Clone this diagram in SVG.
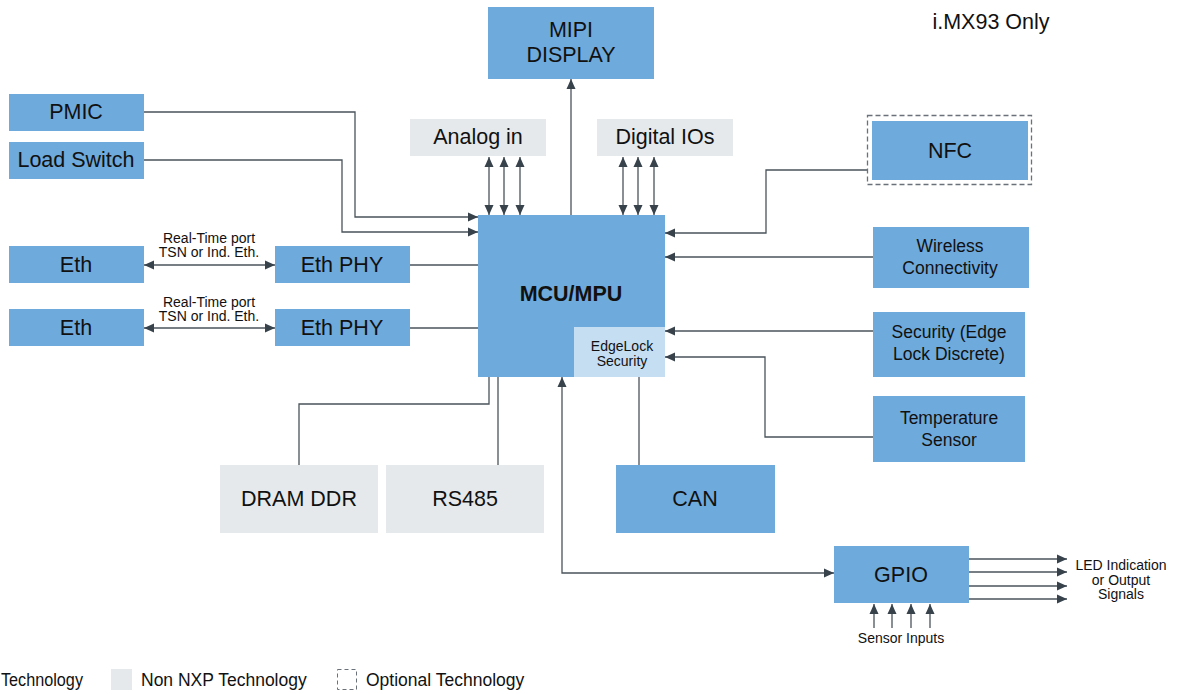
<svg xmlns="http://www.w3.org/2000/svg" width="1181" height="694" viewBox="0 0 1181 694">
<defs>
<marker id="ah" markerUnits="userSpaceOnUse" markerWidth="10" markerHeight="10" refX="10" refY="5" orient="auto-start-reverse" viewBox="0 0 10 10">
<path d="M0,0.5 L10,5 L0,9.5 z" fill="#37424b"/>
</marker>
<style>
.nxp{fill:#6eaadc}
.non{fill:#e5e9ec}
.el{fill:#c6def2}
.t{font-family:"Liberation Sans",Arial,sans-serif;fill:#111;text-anchor:middle;dominant-baseline:central}
.big{font-size:21.5px}
.mid{font-size:17.5px}
.sm{font-size:14px}
.ln{fill:none;stroke:#4a545c;stroke-width:1.3}
.ar{marker-end:url(#ah)}
.da{marker-start:url(#ah);marker-end:url(#ah)}
</style>
</defs>
<rect width="1181" height="694" fill="#fff"/>

<text class="t big" x="991" y="22">i.MX93 Only</text>

<g id="connectors">
<polyline class="ln ar" points="571,215 571,79"/>
<polyline class="ln ar" points="144,112 355,112 355,217 478,217"/>
<polyline class="ln ar" points="144,160 342,160 342,232 478,232"/>
<line class="ln da" x1="144" y1="265" x2="275" y2="265"/>
<line class="ln da" x1="144" y1="328" x2="275" y2="328"/>
<line class="ln" x1="410" y1="265" x2="478" y2="265"/>
<line class="ln" x1="410" y1="328" x2="478" y2="328"/>
<line class="ln da" x1="489" y1="157" x2="489" y2="215"/>
<line class="ln da" x1="504" y1="157" x2="504" y2="215"/>
<line class="ln da" x1="520" y1="157" x2="520" y2="215"/>
<line class="ln da" x1="623" y1="157" x2="623" y2="215"/>
<line class="ln da" x1="638" y1="157" x2="638" y2="215"/>
<line class="ln da" x1="654" y1="157" x2="654" y2="215"/>
<polyline class="ln ar" points="867,170 766,170 766,233 665,233"/>
<line class="ln ar" x1="873" y1="257" x2="665" y2="257"/>
<line class="ln ar" x1="873" y1="331" x2="665" y2="331"/>
<polyline class="ln ar" points="873,437 765,437 765,357 665,357"/>
<polyline class="ln" points="299,465 299,404 489,404 489,377"/>
<line class="ln" x1="498" y1="377" x2="498" y2="465"/>
<line class="ln" x1="639" y1="377" x2="639" y2="465"/>
<polyline class="ln da" points="562,377 562,573 834,573"/>
<line class="ln ar" x1="969" y1="559" x2="1067" y2="559"/>
<line class="ln ar" x1="969" y1="572" x2="1067" y2="572"/>
<line class="ln ar" x1="969" y1="586" x2="1067" y2="586"/>
<line class="ln ar" x1="969" y1="599" x2="1067" y2="599"/>
<line class="ln ar" x1="874" y1="628" x2="874" y2="604"/>
<line class="ln ar" x1="892" y1="628" x2="892" y2="604"/>
<line class="ln ar" x1="911" y1="628" x2="911" y2="604"/>
<line class="ln ar" x1="930" y1="628" x2="930" y2="604"/>
<text class="t sm" x="209" y="238">Real-Time port</text>
<text class="t sm" x="209" y="252">TSN or Ind. Eth.</text>
<text class="t sm" x="209" y="302">Real-Time port</text>
<text class="t sm" x="209" y="316">TSN or Ind. Eth.</text>
<text class="t sm" x="1121" y="565">LED Indication</text>
<text class="t sm" x="1121" y="580">or Output</text>
<text class="t sm" x="1121" y="594">Signals</text>
<text class="t sm" x="901" y="638">Sensor Inputs</text>
</g>

<g id="mipi"><rect class="nxp" x="488" y="7" width="166" height="72"/><text class="t big" x="571" y="30">MIPI</text><text class="t big" x="571" y="55">DISPLAY</text></g>
<g id="analog"><rect class="non" x="410" y="119" width="136" height="37"/><text class="t big" x="478" y="137">Analog in</text></g>
<g id="digital"><rect class="non" x="597" y="119" width="136" height="37"/><text class="t big" x="665" y="137">Digital IOs</text></g>
<g id="pmic"><rect class="nxp" x="9" y="94" width="135" height="37"/><text class="t big" x="76" y="112">PMIC</text></g>
<g id="loadswitch"><rect class="nxp" x="9" y="142" width="135" height="37"/><text class="t big" x="76" y="160">Load Switch</text></g>
<g id="eth1"><rect class="nxp" x="9" y="246" width="135" height="37"/><text class="t big" x="76" y="265">Eth</text></g>
<g id="ethphy1"><rect class="nxp" x="275" y="246" width="135" height="37"/><text class="t big" x="342" y="265">Eth PHY</text></g>
<g id="eth2"><rect class="nxp" x="9" y="309" width="135" height="37"/><text class="t big" x="76" y="328">Eth</text></g>
<g id="ethphy2"><rect class="nxp" x="275" y="309" width="135" height="37"/><text class="t big" x="342" y="328">Eth PHY</text></g>
<g id="mcu"><rect class="nxp" x="478" y="215" width="187" height="162"/><text class="t big" x="571" y="294" font-weight="bold">MCU/MPU</text></g>
<g id="edgelock"><rect class="el" x="574" y="327" width="91" height="50"/><text class="t sm" x="622" y="346">EdgeLock</text><text class="t sm" x="622" y="361">Security</text></g>
<g id="nfc"><rect x="867.5" y="115.5" width="164" height="69" fill="none" stroke="#6b7178" stroke-width="1.3" stroke-dasharray="5,3"/><rect class="nxp" x="872" y="121" width="156" height="59"/><text class="t big" x="950" y="151">NFC</text></g>
<g id="wireless"><rect class="nxp" x="873" y="227" width="156" height="61"/><text class="t mid" x="950" y="246">Wireless</text><text class="t mid" x="950" y="268">Connectivity</text></g>
<g id="security"><rect class="nxp" x="873" y="312" width="152" height="65"/><text class="t mid" x="949" y="332">Security (Edge</text><text class="t mid" x="949" y="354">Lock Discrete)</text></g>
<g id="temp"><rect class="nxp" x="873" y="396" width="152" height="66"/><text class="t mid" x="949" y="418">Temperature</text><text class="t mid" x="949" y="440">Sensor</text></g>
<g id="dram"><rect class="non" x="220" y="465" width="158" height="68"/><text class="t big" x="299" y="499">DRAM DDR</text></g>
<g id="rs485"><rect class="non" x="386" y="465" width="158" height="68"/><text class="t big" x="465" y="499">RS485</text></g>
<g id="can"><rect class="nxp" x="616" y="465" width="159" height="68"/><text class="t big" x="695" y="499">CAN</text></g>
<g id="gpio"><rect class="nxp" x="834" y="546" width="135" height="57"/><text class="t big" x="901" y="575">GPIO</text></g>

<g id="legend">
<text class="t mid" x="1" y="680" style="text-anchor:start" textLength="82" lengthAdjust="spacingAndGlyphs">Technology</text>
<rect class="non" x="111" y="669" width="21" height="21"/>
<text class="t mid" x="141" y="680" style="text-anchor:start">Non NXP Technology</text>
<rect x="337.5" y="669.5" width="19" height="20" fill="none" stroke="#6b7178" stroke-width="1" stroke-dasharray="4,3"/>
<text class="t mid" x="366" y="680" style="text-anchor:start">Optional Technology</text>
</g>
</svg>
